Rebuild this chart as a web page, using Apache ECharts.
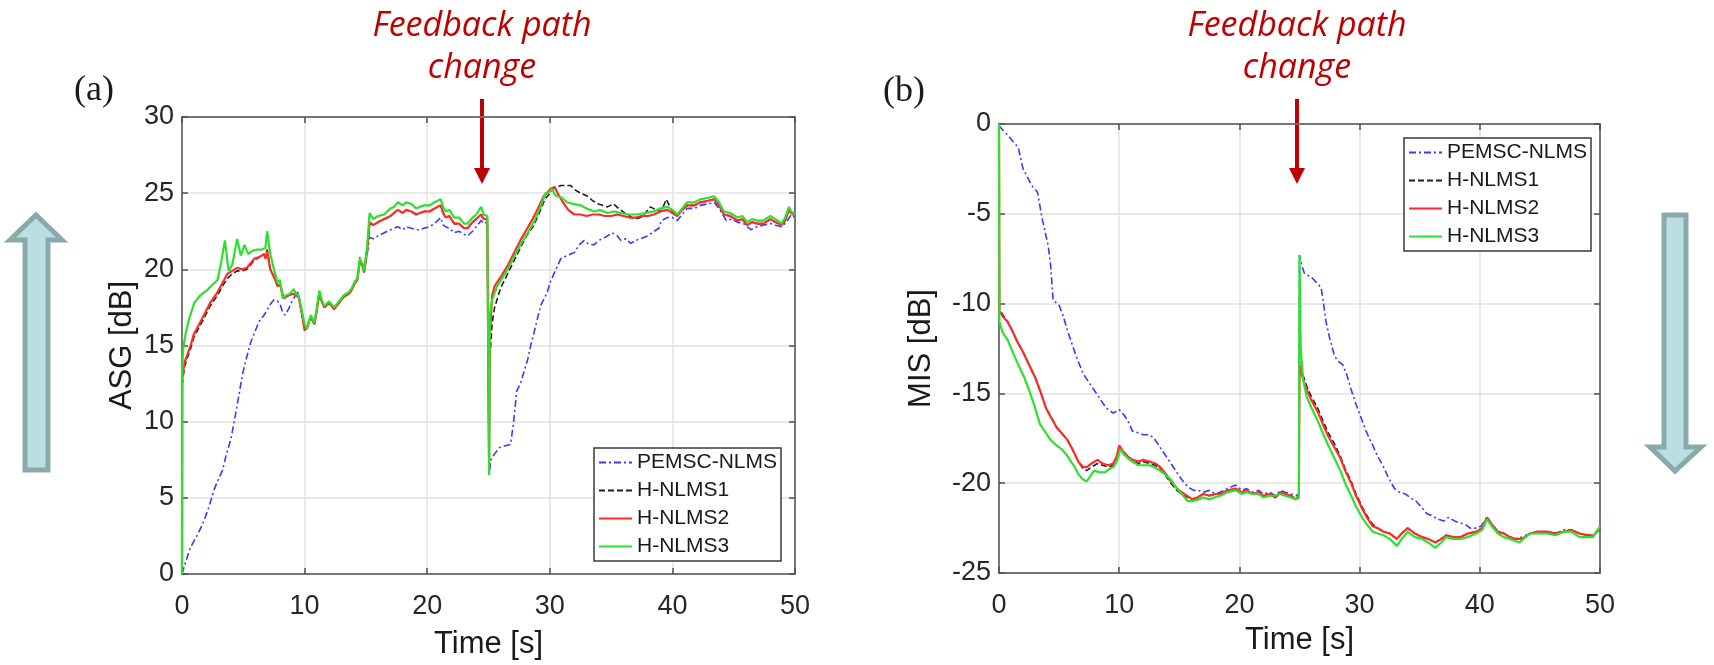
<!DOCTYPE html>
<html><head><meta charset="utf-8">
<script src="https://cdn.jsdelivr.net/npm/echarts@6/dist/echarts.min.js"></script>
<style>html,body{margin:0;padding:0;background:#fff}#c{width:1714px;height:665px}</style>
</head><body><div id="c"></div>
<script>
const seriesNames = ['PEMSC-NLMS', 'H-NLMS1', 'H-NLMS2', 'H-NLMS3'];
const timeRange = [0, 50, 10];
const asgRange = [0, 30, 5];
const misRange = [-25, 0, 5];

// ---------- (a) ASG [dB] ----------
const asgPemsc = [[0,0],[0.3,0.8],[0.67,1.7],[1.0,2.2],[1.34,2.7],[1.8,3.5],[2.24,4.5],[2.6,5.5],[2.9,6.1],[3.3,6.8],[3.6,7.8],[4.0,8.9],[4.3,10.2],[4.5,11.1],[4.7,12.0],[4.9,13.0],[5.2,14.0],[5.6,15.2],[6.0,16.0],[6.3,16.6],[6.7,17.0],[7.2,17.7],[7.5,18.0],[7.8,17.9],[8.0,17.7],[8.2,17.2],[8.4,17.0],[8.7,17.4],[8.9,17.8],[9.2,18.2],[9.4,18.6],[9.6,18.0],[9.8,17.0],[10.0,16.2],[10.2,16.1],[10.5,16.9],[10.8,16.4],[11.0,17.4],[11.2,18.4],[11.4,17.9],[11.6,17.5],[12.0,17.8],[12.4,17.4],[12.8,17.8],[13.2,18.2],[13.6,18.4],[13.8,18.6],[14.1,19.1],[14.3,19.3],[14.5,20.8],[14.7,20.3],[14.85,19.8],[15.1,21.0],[15.3,22.1],[15.6,22.0],[16.0,22.2],[16.5,22.4],[17.0,22.6],[17.3,22.7],[17.6,22.8],[18.0,22.6],[18.3,22.8],[18.7,22.7],[19.1,22.6],[19.4,22.6],[19.75,22.7],[20.2,22.8],[20.6,23.0],[21.1,23.4],[21.3,22.9],[21.5,22.8],[21.8,22.7],[22.2,22.4],[22.6,22.5],[23.0,22.3],[23.3,22.2],[23.7,22.5],[24.0,22.8],[24.4,23.2],[24.6,23.0],[24.9,23.1],[25.0,23.0],[25.05,6.5],[25.2,7.5],[25.5,7.9],[25.9,8.3],[26.3,8.4],[26.8,8.5],[27.05,10.0],[27.3,12.0],[27.6,12.5],[27.9,13.3],[28.2,14.1],[28.5,15.2],[28.7,15.8],[29.0,16.8],[29.3,17.7],[29.8,18.5],[30.0,19.1],[30.5,20.0],[30.9,20.7],[31.4,20.9],[32.0,21.1],[32.4,21.6],[32.8,21.9],[33.1,21.7],[33.6,21.6],[34.0,21.9],[34.5,22.1],[35.1,22.4],[35.5,22.2],[35.8,21.9],[36.2,22.0],[36.6,21.7],[37.0,21.9],[37.4,22.0],[38.0,22.2],[38.5,22.5],[38.9,22.7],[39.1,23.2],[39.6,23.4],[40.0,23.4],[40.4,23.2],[40.8,23.6],[41.2,24.0],[41.8,24.0],[42.3,24.2],[42.9,24.3],[43.4,24.4],[43.8,24.0],[44.4,23.2],[44.8,23.3],[45.3,23.1],[45.8,23.0],[46.4,22.6],[46.9,22.8],[47.4,22.9],[48.0,23.0],[48.4,22.9],[48.9,22.8],[49.3,23.1],[49.7,23.6],[50.0,23.4]];
const asgH1 = [[0,0],[0.02,12.5],[0.2,13.6],[0.4,14.1],[0.7,14.8],[0.95,15.5],[1.4,16.2],[1.8,16.8],[2.3,17.6],[2.9,18.3],[3.3,18.9],[3.7,19.4],[4.1,19.7],[4.5,19.9],[4.9,19.9],[5.3,20.0],[5.6,20.3],[5.9,20.6],[6.3,20.8],[6.7,21.0],[6.8,20.8],[6.95,21.3],[7.2,20.0],[7.5,19.5],[7.8,18.9],[8.0,19.0],[8.3,18.1],[8.7,18.3],[9.1,18.4],[9.5,18.2],[9.8,17.0],[10.0,16.0],[10.2,16.2],[10.5,16.9],[10.8,16.4],[11.0,17.3],[11.2,18.4],[11.4,17.9],[11.6,17.5],[12.0,17.8],[12.4,17.4],[12.8,17.8],[13.2,18.2],[13.6,18.4],[13.8,18.6],[14.1,19.1],[14.3,19.3],[14.5,20.5],[14.7,20.3],[14.85,19.8],[15.1,21.2],[15.3,23.0],[15.6,22.9],[16.0,23.1],[16.5,23.3],[17.0,23.5],[17.3,23.7],[17.6,23.9],[18.0,23.7],[18.3,23.9],[18.7,23.8],[19.1,23.6],[19.4,23.7],[19.75,23.8],[20.2,23.8],[20.6,24.0],[21.1,24.2],[21.3,23.7],[21.5,23.4],[21.8,23.5],[22.2,23.0],[22.6,23.0],[23.0,22.7],[23.3,22.7],[23.7,23.1],[24.0,23.3],[24.4,23.6],[24.6,23.3],[24.9,23.3],[25.0,23.2],[25.05,7.0],[25.1,14.0],[25.3,16.5],[25.5,17.5],[26.0,18.8],[26.5,19.6],[27.1,20.6],[27.6,21.4],[28.1,22.2],[28.7,22.9],[29.2,23.8],[29.6,24.6],[30.0,25.0],[30.3,25.3],[30.6,25.4],[30.9,25.5],[31.3,25.5],[31.7,25.5],[32.1,25.2],[32.5,25.0],[33.1,24.8],[33.5,24.5],[33.9,24.3],[34.3,24.2],[34.7,24.1],[35.2,24.3],[35.6,24.0],[36.1,23.7],[36.5,23.5],[36.9,23.3],[37.4,23.4],[37.8,23.7],[38.2,24.1],[38.7,23.9],[39.1,23.8],[39.5,24.6],[39.8,24.1],[40.1,23.7],[40.4,23.6],[40.8,23.9],[41.2,24.2],[41.8,24.2],[42.3,24.4],[42.9,24.5],[43.4,24.6],[43.8,24.2],[44.2,23.6],[44.7,23.5],[45.3,23.2],[45.7,23.3],[46.1,22.9],[46.5,23.1],[46.9,23.0],[47.4,23.0],[48.0,23.3],[48.4,23.1],[48.9,22.9],[49.2,23.2],[49.5,23.9],[49.7,23.7],[50.0,23.5]];
const asgH2 = [[0,0],[0.02,12.8],[0.2,13.9],[0.4,14.3],[0.7,15.0],[0.95,15.7],[1.4,16.4],[1.8,17.0],[2.3,17.8],[2.9,18.5],[3.3,19.1],[3.7,19.7],[4.1,19.9],[4.5,20.1],[4.9,20.0],[5.3,20.1],[5.6,20.4],[5.9,20.7],[6.3,20.8],[6.7,21.0],[6.8,20.7],[6.95,21.2],[7.2,20.0],[7.5,19.5],[7.8,18.9],[8.0,19.0],[8.3,18.1],[8.7,18.3],[9.1,18.4],[9.5,18.2],[9.8,17.0],[10.0,16.0],[10.2,16.2],[10.5,16.9],[10.8,16.4],[11.0,17.3],[11.2,18.4],[11.4,17.9],[11.6,17.5],[12.0,17.8],[12.4,17.4],[12.8,17.8],[13.2,18.2],[13.6,18.4],[13.8,18.6],[14.1,19.1],[14.3,19.3],[14.5,20.5],[14.7,20.3],[14.85,19.8],[15.1,21.2],[15.3,23.1],[15.6,22.9],[16.0,23.1],[16.5,23.3],[17.0,23.5],[17.3,23.7],[17.6,23.9],[18.0,23.7],[18.3,23.9],[18.7,23.8],[19.1,23.6],[19.4,23.7],[19.75,23.8],[20.2,23.8],[20.6,24.0],[21.1,24.2],[21.3,23.7],[21.5,23.4],[21.8,23.5],[22.2,23.0],[22.6,23.0],[23.0,22.7],[23.3,22.7],[23.7,23.1],[24.0,23.3],[24.4,23.6],[24.6,23.3],[24.9,23.3],[25.0,23.2],[25.05,7.0],[25.1,15.5],[25.3,18.3],[25.5,18.9],[26.0,19.5],[26.6,20.3],[27.1,21.1],[27.6,21.9],[28.1,22.6],[28.6,23.3],[29.1,24.1],[29.5,24.8],[30.1,25.3],[30.4,25.4],[30.7,24.9],[31.0,24.5],[31.5,23.9],[32.0,23.6],[32.5,23.6],[33.0,23.5],[33.5,23.6],[34.0,23.6],[34.5,23.5],[35.0,23.5],[35.5,23.6],[36.0,23.5],[36.5,23.4],[37.0,23.4],[37.5,23.5],[38.0,23.5],[38.5,23.6],[39.0,23.8],[39.6,23.9],[40.0,23.7],[40.4,23.5],[40.8,23.9],[41.2,24.2],[41.8,24.2],[42.3,24.4],[42.9,24.5],[43.4,24.6],[43.8,24.2],[44.2,23.6],[44.7,23.5],[45.3,23.2],[45.7,23.3],[46.1,22.9],[46.5,23.1],[46.9,23.0],[47.4,23.0],[48.0,23.3],[48.4,23.1],[48.9,22.9],[49.2,23.2],[49.5,23.9],[49.7,23.7],[50.0,23.5]];
const asgH3 = [[0,0],[0.02,13.5],[0.1,14.8],[0.3,15.8],[0.6,16.8],[1.0,17.8],[1.5,18.3],[2.0,18.6],[2.5,19.0],[2.9,19.3],[3.2,20.5],[3.5,21.9],[3.8,19.9],[4.1,20.3],[4.5,22.0],[4.8,20.9],[5.1,21.6],[5.4,21.0],[5.7,21.2],[6.1,21.3],[6.5,21.3],[6.8,21.4],[6.95,22.5],[7.2,21.0],[7.5,20.0],[7.8,19.1],[8.0,19.3],[8.2,18.1],[8.5,18.3],[8.8,18.4],[9.1,18.7],[9.3,18.4],[9.5,18.3],[9.8,17.2],[10.0,16.4],[10.2,16.1],[10.5,17.0],[10.8,16.5],[11.0,17.5],[11.2,18.6],[11.4,18.0],[11.6,17.6],[12.0,17.9],[12.4,17.5],[12.8,17.9],[13.2,18.3],[13.6,18.5],[13.8,18.7],[14.1,19.2],[14.3,19.4],[14.5,20.7],[14.7,20.4],[14.85,19.9],[15.1,21.5],[15.3,23.7],[15.6,23.3],[16.0,23.5],[16.5,23.6],[17.0,24.0],[17.3,24.1],[17.6,24.4],[18.0,24.2],[18.3,24.4],[18.7,24.3],[19.1,24.0],[19.4,24.1],[19.75,24.2],[20.2,24.2],[20.6,24.4],[21.1,24.6],[21.3,24.1],[21.5,23.8],[21.8,23.9],[22.2,23.4],[22.6,23.4],[23.0,23.0],[23.3,23.0],[23.7,23.4],[24.0,23.6],[24.4,24.1],[24.6,23.6],[24.9,23.5],[25.0,23.4],[25.05,6.5],[25.1,17.0],[25.3,18.0],[25.7,18.9],[26.1,19.4],[26.5,19.9],[27.0,20.7],[27.6,21.6],[28.2,22.4],[28.7,23.1],[29.2,24.0],[29.65,25.0],[30.0,25.1],[30.2,25.3],[30.4,24.9],[30.6,24.8],[31.0,24.7],[31.4,24.4],[31.9,24.3],[32.5,24.2],[33.0,24.0],[33.6,23.8],[34.1,23.9],[34.7,23.7],[35.2,23.8],[35.8,23.7],[36.4,23.6],[37.1,23.6],[37.8,23.7],[38.5,23.8],[39.0,24.0],[39.6,24.1],[40.0,23.9],[40.4,23.6],[40.8,24.0],[41.2,24.4],[41.8,24.4],[42.3,24.6],[42.9,24.7],[43.4,24.8],[43.8,24.4],[44.2,23.8],[44.7,23.7],[45.3,23.4],[45.7,23.5],[46.1,23.1],[46.5,23.3],[46.9,23.2],[47.4,23.2],[48.0,23.5],[48.4,23.3],[48.9,23.0],[49.2,23.4],[49.5,24.1],[49.7,23.8],[50.0,23.6]];

// ---------- (b) MIS [dB] ----------
const misPemsc = [[0,-0.1],[0.4,-0.4],[0.7,-0.6],[1.2,-1.0],[1.6,-1.3],[2.0,-2.5],[2.4,-3.0],[2.7,-3.4],[3.2,-3.8],[3.6,-5.3],[4.1,-6.8],[4.3,-7.9],[4.5,-9.8],[5.0,-10.1],[5.3,-10.6],[5.7,-11.5],[6.0,-12.1],[6.4,-12.9],[7.0,-13.9],[7.4,-14.3],[7.9,-14.8],[8.4,-15.3],[8.9,-15.8],[9.5,-16.1],[10.0,-15.9],[10.4,-16.2],[10.7,-16.5],[11.1,-17.1],[11.6,-17.2],[12.0,-17.3],[12.5,-17.3],[12.9,-17.5],[13.4,-18.0],[13.8,-18.4],[14.3,-18.9],[14.7,-19.3],[15.2,-19.8],[15.7,-20.2],[16.2,-20.4],[16.6,-20.4],[17.0,-20.5],[17.5,-20.4],[18.0,-20.6],[18.4,-20.5],[19.0,-20.3],[19.7,-20.1],[20.2,-20.4],[20.6,-20.3],[21.1,-20.5],[21.6,-20.4],[22.0,-20.6],[22.5,-20.5],[23.0,-20.7],[23.4,-20.4],[23.8,-20.5],[24.3,-20.6],[24.7,-20.7],[24.95,-20.6],[25.0,-7.3],[25.2,-7.9],[25.4,-8.3],[26.1,-8.6],[26.5,-8.9],[26.8,-9.1],[27.0,-10.0],[27.2,-11.0],[27.5,-11.9],[27.9,-12.9],[28.2,-13.2],[28.6,-13.4],[29.0,-14.1],[29.3,-14.8],[29.7,-15.6],[30.2,-16.5],[30.6,-17.2],[31.1,-17.9],[31.5,-18.5],[32.0,-19.1],[32.4,-19.7],[32.9,-20.3],[33.3,-20.5],[33.8,-20.6],[34.2,-20.8],[34.7,-21.0],[35.1,-21.3],[35.6,-21.7],[36.0,-21.8],[36.5,-22.0],[37.0,-22.1],[37.4,-21.9],[37.9,-22.1],[38.3,-22.2],[38.8,-22.3],[39.2,-22.5],[39.7,-22.5],[40.1,-22.4],[40.6,-21.9],[41.0,-22.3],[41.5,-22.7],[42.0,-22.8],[42.5,-23.0],[42.9,-23.1],[43.5,-23.0],[44.2,-22.8],[44.8,-22.7],[45.6,-22.7],[46.3,-22.8],[47.0,-22.6],[47.6,-22.6],[48.3,-22.8],[49.0,-22.9],[49.5,-22.9],[50.0,-22.5]];
const misH1 = [[0,0],[0.03,-10.3],[0.3,-10.6],[0.7,-11.0],[1.1,-11.5],[1.5,-12.1],[2.0,-12.7],[2.5,-13.4],[3.0,-14.1],[3.5,-15.0],[3.9,-15.8],[4.3,-16.3],[4.8,-16.9],[5.2,-17.2],[5.7,-17.6],[6.1,-18.1],[6.6,-18.8],[7.0,-19.2],[7.3,-19.3],[7.7,-19.1],[8.2,-18.9],[8.6,-19.0],[9.1,-19.1],[9.5,-19.0],[9.8,-18.6],[10.0,-18.0],[10.3,-18.3],[10.7,-18.6],[11.1,-18.8],[11.6,-18.9],[12.0,-18.8],[12.5,-18.9],[13.0,-19.0],[13.4,-19.2],[13.9,-19.6],[14.3,-20.0],[14.8,-20.4],[15.4,-20.7],[16.1,-20.9],[16.5,-20.8],[17.0,-20.6],[17.5,-20.7],[18.0,-20.6],[18.4,-20.6],[19.0,-20.4],[19.7,-20.3],[20.2,-20.5],[20.6,-20.4],[21.1,-20.6],[21.6,-20.5],[22.0,-20.7],[22.5,-20.6],[23.0,-20.8],[23.4,-20.5],[23.8,-20.6],[24.3,-20.7],[24.7,-20.9],[24.95,-20.7],[25.0,-13.2],[25.2,-13.8],[25.6,-14.6],[26.0,-15.2],[26.5,-15.8],[27.0,-16.6],[27.4,-17.2],[27.9,-17.8],[28.4,-18.5],[28.8,-19.2],[29.3,-19.9],[29.7,-20.6],[30.2,-21.3],[30.6,-21.8],[31.1,-22.3],[31.5,-22.5],[32.0,-22.7],[32.5,-22.8],[33.1,-23.1],[33.5,-22.8],[34.0,-22.5],[34.6,-22.8],[35.2,-23.0],[35.7,-23.1],[36.3,-23.3],[36.8,-23.1],[37.2,-22.9],[37.8,-23.0],[38.4,-23.0],[39.0,-22.8],[39.7,-22.7],[40.2,-22.5],[40.6,-21.9],[41.0,-22.3],[41.5,-22.7],[42.0,-22.8],[42.5,-23.0],[42.9,-23.1],[43.5,-23.1],[44.2,-22.8],[44.8,-22.7],[45.6,-22.7],[46.3,-22.8],[47.0,-22.7],[47.6,-22.6],[48.3,-22.8],[49.0,-22.9],[49.5,-22.9],[50.0,-22.5]];
const misH2 = [[0,0],[0.03,-10.4],[0.3,-10.7],[0.7,-11.0],[1.1,-11.5],[1.5,-12.1],[2.0,-12.7],[2.5,-13.4],[3.0,-14.1],[3.5,-15.0],[3.9,-15.8],[4.3,-16.3],[4.8,-16.9],[5.2,-17.2],[5.7,-17.6],[6.1,-18.1],[6.6,-18.8],[7.0,-19.1],[7.3,-19.1],[7.7,-18.9],[8.2,-18.7],[8.6,-18.9],[9.1,-19.0],[9.5,-18.9],[9.8,-18.5],[10.0,-17.9],[10.3,-18.2],[10.7,-18.5],[11.1,-18.7],[11.6,-18.8],[12.0,-18.7],[12.5,-18.8],[13.0,-18.9],[13.4,-19.1],[13.9,-19.5],[14.3,-19.9],[14.8,-20.3],[15.4,-20.6],[16.1,-20.9],[16.5,-20.8],[17.0,-20.6],[17.5,-20.7],[18.0,-20.6],[18.4,-20.6],[19.0,-20.4],[19.7,-20.3],[20.2,-20.5],[20.6,-20.4],[21.1,-20.6],[21.6,-20.5],[22.0,-20.7],[22.5,-20.6],[23.0,-20.8],[23.4,-20.5],[23.8,-20.6],[24.3,-20.7],[24.7,-20.9],[24.95,-20.7],[25.0,-13.4],[25.2,-14.0],[25.6,-14.8],[26.0,-15.4],[26.5,-16.0],[27.0,-16.8],[27.4,-17.4],[27.9,-18.0],[28.4,-18.6],[28.8,-19.3],[29.3,-20.0],[29.7,-20.7],[30.2,-21.4],[30.6,-21.9],[31.1,-22.4],[31.5,-22.5],[32.0,-22.7],[32.5,-22.8],[33.1,-23.1],[33.5,-22.8],[34.0,-22.5],[34.6,-22.8],[35.2,-23.0],[35.7,-23.1],[36.3,-23.3],[36.8,-23.1],[37.2,-22.9],[37.8,-23.0],[38.4,-23.0],[39.0,-22.8],[39.7,-22.7],[40.2,-22.5],[40.6,-21.9],[41.0,-22.3],[41.5,-22.7],[42.0,-22.8],[42.5,-23.0],[42.9,-23.1],[43.5,-23.1],[44.2,-22.8],[44.8,-22.7],[45.6,-22.7],[46.3,-22.8],[47.0,-22.7],[47.6,-22.6],[48.3,-22.8],[49.0,-22.9],[49.5,-22.9],[50.0,-22.5]];
const misH3 = [[0,0],[0.03,-11.0],[0.3,-11.6],[0.7,-12.0],[1.2,-12.8],[1.6,-13.4],[2.1,-14.1],[2.5,-14.8],[3.0,-15.8],[3.4,-16.7],[3.9,-17.2],[4.3,-17.6],[4.8,-17.9],[5.2,-18.1],[5.6,-18.4],[5.9,-18.7],[6.3,-19.1],[6.6,-19.5],[7.0,-19.8],[7.3,-19.9],[7.6,-19.6],[7.9,-19.3],[8.4,-19.4],[8.8,-19.4],[9.2,-19.2],[9.5,-19.1],[9.8,-18.8],[10.1,-18.1],[10.4,-18.4],[10.7,-18.6],[11.1,-18.8],[11.6,-19.0],[12.0,-19.0],[12.5,-19.0],[12.9,-19.1],[13.4,-19.3],[13.8,-19.5],[14.3,-19.8],[14.7,-20.2],[15.2,-20.6],[15.7,-21.0],[16.1,-21.0],[16.6,-20.9],[17.0,-20.8],[17.5,-20.9],[17.9,-20.8],[18.4,-20.7],[19.0,-20.5],[19.7,-20.4],[20.2,-20.6],[20.6,-20.5],[21.1,-20.6],[21.6,-20.6],[22.0,-20.8],[22.5,-20.7],[22.9,-20.7],[23.4,-20.6],[23.8,-20.7],[24.3,-20.8],[24.7,-20.9],[24.95,-20.8],[25.0,-7.3],[25.1,-12.5],[25.3,-14.2],[25.6,-15.2],[26.0,-15.8],[26.5,-16.5],[27.0,-17.3],[27.4,-17.9],[27.9,-18.6],[28.4,-19.3],[28.8,-20.0],[29.3,-20.7],[29.7,-21.3],[30.2,-21.9],[30.6,-22.3],[31.1,-22.7],[31.5,-22.8],[32.0,-22.9],[32.5,-23.1],[33.1,-23.5],[33.5,-23.1],[34.0,-22.7],[34.6,-23.0],[35.2,-23.1],[35.7,-23.3],[36.3,-23.6],[36.8,-23.3],[37.2,-23.0],[37.8,-23.1],[38.4,-23.1],[39.0,-23.0],[39.7,-22.8],[40.2,-22.6],[40.6,-22.0],[41.0,-22.4],[41.5,-22.8],[42.0,-23.0],[42.5,-23.1],[43.3,-23.3],[43.8,-23.0],[44.2,-22.8],[44.8,-22.8],[45.6,-22.8],[46.3,-22.9],[47.0,-22.7],[47.6,-22.7],[48.3,-23.0],[49.0,-23.0],[49.4,-23.0],[50.0,-22.4]];

const chart = echarts.init(document.getElementById('c'));
const FONT = '"Liberation Sans", Arial, sans-serif';
const AX = '#505050';
const styles = [
  { color: '#3a3aff', width: 1.6, type: [7, 3, 2, 3] },
  { color: '#1e1e1e', width: 1.6, type: [6, 3] },
  { color: '#ff2b2b', width: 2.2, type: 'solid' },
  { color: '#2ee02e', width: 2.2, type: 'solid' }
];

function mainX(gi, r, gap) {
  return { gridIndex: gi, type: 'value', min: r[0], max: r[1], interval: r[2], position: 'bottom',
    name: 'Time [s]', nameLocation: 'middle', nameGap: gap,
    nameTextStyle: { fontFamily: FONT, fontSize: 31, color: '#1a1a1a' },
    axisLine: { show: true, onZero: false, lineStyle: { color: AX, width: 1.5 } },
    axisTick: { show: true, inside: true, length: 6, lineStyle: { color: AX, width: 1.5 } },
    axisLabel: { fontFamily: FONT, fontSize: 27, color: '#262626', margin: 19 },
    splitLine: { show: true, lineStyle: { color: '#e2e2e2', width: 1.5 } } };
}
function boxX(gi, r) {
  return { gridIndex: gi, type: 'value', min: r[0], max: r[1], interval: r[2], position: 'top',
    axisLine: { show: true, onZero: false, lineStyle: { color: AX, width: 1.5 } },
    axisTick: { show: true, inside: true, length: 6, lineStyle: { color: AX, width: 1.5 } },
    axisLabel: { show: false }, splitLine: { show: false } };
}
function mainY(gi, r, name, gap) {
  return { gridIndex: gi, type: 'value', min: r[0], max: r[1], interval: r[2], position: 'left',
    name: name, nameLocation: 'middle', nameGap: gap, nameRotate: 90,
    nameTextStyle: { fontFamily: FONT, fontSize: 31, color: '#1a1a1a' },
    axisLine: { show: true, onZero: false, lineStyle: { color: AX, width: 1.5 } },
    axisTick: { show: true, inside: true, length: 6, lineStyle: { color: AX, width: 1.5 } },
    axisLabel: { fontFamily: FONT, fontSize: 27, color: '#262626', margin: 8 },
    splitLine: { show: true, lineStyle: { color: '#e2e2e2', width: 1.5 } } };
}
function boxY(gi, r) {
  return { gridIndex: gi, type: 'value', min: r[0], max: r[1], interval: r[2], position: 'right',
    axisLine: { show: true, onZero: false, lineStyle: { color: AX, width: 1.5 } },
    axisTick: { show: true, inside: true, length: 6, lineStyle: { color: AX, width: 1.5 } },
    axisLabel: { show: false }, splitLine: { show: false } };
}
function mk(data, i, xi, yi) {
  return { name: seriesNames[i], type: 'line', xAxisIndex: xi, yAxisIndex: yi, data: data,
    showSymbol: false, symbol: 'none', smooth: false, z: 2 + i,
    lineStyle: { color: styles[i].color, width: styles[i].width, type: styles[i].type },
    itemStyle: { color: styles[i].color } };
}
function legendAt(left, top) {
  return { left: left, top: top, orient: 'vertical', data: seriesNames,
    itemWidth: 33, itemHeight: 14, itemGap: 7, padding: [4, 4, 4, 4],
    borderColor: '#3a3a3a', borderWidth: 1.5, backgroundColor: '#fff',
    itemStyle: { opacity: 0, borderWidth: 0 },
    textStyle: { fontFamily: FONT, fontSize: 21, color: '#1a1a1a', lineHeight: 21 },
    selectedMode: false };
}
function redArrow(x) {
  return [
    { type: 'rect', shape: { x: x - 2, y: 99, width: 4, height: 70 }, style: { fill: '#c00000' } },
    { type: 'polygon', shape: { points: [[x - 8, 168], [x + 8, 168], [x, 184]] }, style: { fill: '#c00000' } }
  ];
}
function redText(x) {
  const ts = { fill: '#c00000', font: 'italic 34px "Open Sans", sans-serif', textAlign: 'center', textVerticalAlign: 'middle' };
  return [
    { type: 'text', x: x, y: 26, style: Object.assign({ text: 'Feedback path' }, ts) },
    { type: 'text', x: x, y: 68, style: Object.assign({ text: 'change' }, ts) }
  ];
}
const bigStyle = { fill: '#b9dfe3', stroke: '#8ba8ab', lineWidth: 5 };

chart.setOption({
  animation: false,
  backgroundColor: '#fff',
  grid: [
    { left: 182, top: 117, width: 613, height: 460 },
    { left: 999, top: 124, width: 601, height: 449 }
  ],
  xAxis: [mainX(0, timeRange, 55), boxX(0, timeRange), mainX(1, timeRange, 52), boxX(1, timeRange)],
  yAxis: [mainY(0, asgRange, 'ASG [dB]', 44), boxY(0, asgRange), mainY(1, misRange, 'MIS [dB]', 62), boxY(1, misRange)],
  legend: [legendAt(594, 448), legendAt(1404, 138)],
  series: [
    mk(asgPemsc, 0, 0, 0), mk(asgH1, 1, 0, 0), mk(asgH2, 2, 0, 0), mk(asgH3, 3, 0, 0),
    mk(misPemsc, 0, 2, 2), mk(misH1, 1, 2, 2), mk(misH2, 2, 2, 2), mk(misH3, 3, 2, 2)
  ],
  graphic: [
    { type: 'text', x: 94, y: 91, style: { text: '(a)', font: '36px "Liberation Serif", serif', fill: '#1a1a1a', textAlign: 'center', textVerticalAlign: 'middle' } },
    { type: 'text', x: 904, y: 92, style: { text: '(b)', font: '36px "Liberation Serif", serif', fill: '#1a1a1a', textAlign: 'center', textVerticalAlign: 'middle' } },
    ...redText(482), ...redArrow(482),
    ...redText(1297), ...redArrow(1297),
    { type: 'polygon', shape: { points: [[36, 215], [62, 240], [48, 240], [48, 470], [25, 470], [25, 240], [10, 240]] }, style: bigStyle },
    { type: 'polygon', shape: { points: [[1664, 215], [1686, 215], [1686, 447], [1701, 447], [1675, 471], [1650, 447], [1664, 447]] }, style: bigStyle }
  ]
});
</script>
</body></html>
